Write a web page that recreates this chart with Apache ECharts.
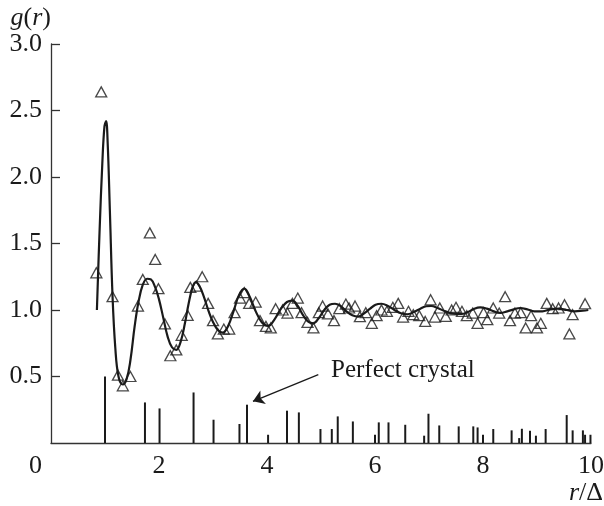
<!DOCTYPE html>
<html>
<head>
<meta charset="utf-8">
<script src="https://cdn.jsdelivr.net/npm/echarts@6/dist/echarts.min.js"></script>
<style>
  html, body { margin: 0; padding: 0; background: #fff; }
  #main { width: 604px; height: 506px; }
</style>
</head>
<body>
<div id="main"></div>
<script>
// measured points (triangles)
var pointsX = [0.84, 0.93, 1.14, 1.24, 1.33, 1.47, 1.61, 1.70, 1.83, 1.93, 1.99, 2.11, 2.21, 2.32, 2.42, 2.53, 2.58, 2.69, 2.80, 2.91,
  3.00, 3.09, 3.20, 3.30, 3.40, 3.50, 3.58, 3.67, 3.79, 3.87, 3.98, 4.07, 4.16, 4.29, 4.38, 4.47, 4.57, 4.64, 4.75, 4.86,
  4.96, 5.03, 5.13, 5.24, 5.34, 5.46, 5.52, 5.63, 5.72, 5.83, 5.94, 6.03, 6.12, 6.22, 6.33, 6.43, 6.52, 6.62, 6.71, 6.82,
  6.93, 7.03, 7.11, 7.20, 7.31, 7.42, 7.50, 7.61, 7.70, 7.81, 7.90, 8.01, 8.08, 8.19, 8.30, 8.41, 8.50, 8.59, 8.70, 8.79,
  8.89, 9.00, 9.07, 9.18, 9.29, 9.40, 9.51, 9.60, 9.66, 9.89];
var pointsY = [1.28, 2.64, 1.10, 0.51, 0.43, 0.50, 1.03, 1.23, 1.58, 1.38, 1.16, 0.895, 0.656, 0.70, 0.81, 0.96, 1.17, 1.18, 1.25, 1.05,
  0.92, 0.82, 0.857, 0.857, 0.98, 1.09, 1.13, 1.05, 1.06, 0.92, 0.877, 0.865, 1.01, 1.00, 0.977, 1.05, 1.09, 0.98, 0.907, 0.865,
  0.98, 1.03, 0.97, 0.92, 1.01, 1.045, 1.015, 1.03, 0.95, 0.98, 0.90, 0.957, 1.00, 0.99, 1.02, 1.05, 0.947, 0.99, 0.965, 0.957,
  0.914, 1.077, 0.947, 1.015, 0.952, 1.00, 1.02, 0.99, 0.957, 0.977, 0.90, 0.98, 0.927, 1.015, 0.977, 1.10, 0.92, 0.977, 0.98, 0.865,
  0.957, 0.865, 0.90, 1.05, 1.01, 1.015, 1.04, 0.82, 0.965, 1.047];

// smooth curve
var curveX = [0.85, 0.90, 0.95, 0.99, 1.02, 1.05, 1.09, 1.14, 1.19, 1.25, 1.33, 1.40, 1.47, 1.55, 1.62, 1.70, 1.78, 1.85, 1.93, 2.00,
  2.08, 2.16, 2.24, 2.32, 2.40, 2.48, 2.55, 2.62, 2.68, 2.75, 2.83, 2.92, 3.00, 3.09, 3.18, 3.28, 3.38, 3.48, 3.58, 3.68,
  3.78, 3.90, 4.02, 4.14, 4.26, 4.37, 4.47, 4.57, 4.67, 4.77, 4.86, 4.96, 5.06, 5.16, 5.26, 5.36, 5.47, 5.58, 5.69, 5.80,
  5.91, 6.01, 6.12, 6.24, 6.36, 6.48, 6.60, 6.72, 6.84, 6.95, 7.04, 7.16, 7.30, 7.45, 7.60, 7.72, 7.84, 7.95, 8.07, 8.20,
  8.32, 8.45, 8.57, 8.69, 8.82, 8.95, 9.10, 9.25, 9.40, 9.55, 9.70, 9.85, 9.95];
var curveY = [1.00, 1.60, 2.10, 2.38, 2.42, 2.25, 1.75, 1.10, 0.72, 0.50, 0.44, 0.48, 0.62, 0.88, 1.06, 1.19, 1.235, 1.23, 1.17, 1.08,
  0.94, 0.80, 0.72, 0.70, 0.76, 0.90, 1.05, 1.17, 1.21, 1.18, 1.10, 0.99, 0.91, 0.85, 0.83, 0.88, 0.99, 1.11, 1.16, 1.10,
  1.00, 0.91, 0.88, 0.93, 1.01, 1.06, 1.07, 1.03, 0.96, 0.91, 0.90, 0.94, 1.00, 1.04, 1.047, 1.03, 0.99, 0.96, 0.95, 0.975,
  1.01, 1.04, 1.047, 1.03, 1.00, 0.975, 0.968, 0.985, 1.01, 1.028, 1.03, 1.015, 0.99, 0.972, 0.97, 0.985, 1.01, 1.02, 1.01, 0.99,
  0.978, 0.99, 1.005, 1.015, 1.005, 0.99, 0.99, 1.005, 1.01, 1.00, 0.99, 0.995, 1.00];

// perfect crystal lines
var crystalX = [1.00, 1.74, 2.01, 2.64, 3.01, 3.49, 3.63, 4.02, 4.37, 4.59, 4.99, 5.20, 5.31, 5.59, 6.00, 6.07, 6.25, 6.56,
  6.91, 6.99, 7.19, 7.55, 7.82, 7.90, 8.00, 8.19, 8.53, 8.67, 8.72, 8.87, 8.98, 9.16, 9.55, 9.66, 9.85, 9.89, 9.99];
var crystalH = [0.50, 0.305, 0.26, 0.38, 0.175, 0.143, 0.288, 0.062, 0.243, 0.23, 0.105, 0.105, 0.20, 0.162, 0.062, 0.155, 0.155, 0.137,
  0.055, 0.22, 0.132, 0.125, 0.125, 0.117, 0.062, 0.105, 0.095, 0.037, 0.107, 0.092, 0.055, 0.105, 0.21, 0.095, 0.095, 0.062, 0.062];

var xTicks = [0, 2, 4, 6, 8, 10];
var yTicks = [0.5, 1.0, 1.5, 2.0, 2.5, 3.0];

var font = 'Liberation Serif';
var ink = '#1a1a1a';

var chart = echarts.init(document.getElementById('main'));

var option = {
    backgroundColor: '#fff',
    animation: false,
    grid: {
        left: 51,
        right: 13,
        top: 44,
        bottom: 63,
        containLabel: false,
        outerBoundsMode: 'none'
    },
    xAxis: {
        type: 'value',
        min: 0,
        max: 10,
        interval: 2,
        axisLine: { show: true, lineStyle: { color: '#333', width: 1.3 } },
        axisTick: { show: false },
        splitLine: { show: false },
        axisLabel: {
            margin: 10,
            fontFamily: font,
            fontSize: 26,
            color: ink,
            formatter: function (v) {
                if (v === xTicks[0]) return '{z|' + v + '}';
                return '{n|' + v + '}';
            },
            rich: {
                z: { fontFamily: font, fontSize: 26, color: ink, padding: [0, 31, 0, 0] },
                n: { fontFamily: font, fontSize: 26, color: ink }
            }
        }
    },
    yAxis: {
        type: 'value',
        min: 0,
        max: 3,
        interval: 0.5,
        name: '{i|g}{n|(}{i|r}{n|)}',
        nameLocation: 'end',
        nameGap: 10,
        nameTextStyle: {
            align: 'right',
            verticalAlign: 'bottom',
            fontFamily: font,
            fontSize: 26,
            color: ink,
            rich: {
                i: { fontStyle: 'italic', fontFamily: font, fontSize: 26, color: ink },
                n: { fontFamily: font, fontSize: 26, color: ink }
            }
        },
        axisLine: { show: true, lineStyle: { color: '#333', width: 1.3 } },
        axisTick: { show: true, inside: true, length: 9, lineStyle: { color: '#333', width: 1.3 } },
        splitLine: { show: false },
        axisLabel: {
            showMinLabel: false,
            margin: 9,
            fontFamily: font,
            fontSize: 26,
            color: ink,
            formatter: function (v) {
                return yTicks.indexOf(v) >= 0 ? '{n|' + v.toFixed(1) + '}' : '';
            },
            rich: {
                n: { fontFamily: font, fontSize: 26, color: ink }
            }
        }
    },
    series: [
        {
            name: 'crystal',
            type: 'bar',
            barWidth: 2,
            itemStyle: { color: ink },
            data: crystalX.map(function (x, i) { return [x, crystalH[i]]; })
        },
        {
            name: 'curve',
            type: 'line',
            smooth: 0.4,
            showSymbol: false,
            lineStyle: { color: ink, width: 2.2 },
            data: curveX.map(function (x, i) { return [x, curveY[i]]; }),
            z: 3
        },
        {
            name: 'points',
            type: 'scatter',
            symbol: 'triangle',
            symbolSize: [11, 10],
            itemStyle: { color: 'rgba(255,255,255,0)', borderColor: ink, borderWidth: 1.3 },
            data: pointsX.map(function (x, i) { return [x, pointsY[i]]; }),
            z: 4,
            markLine: {
                silent: true,
                symbol: ['none', 'arrow'],
                symbolSize: 11,
                label: { show: false },
                lineStyle: { color: ink, width: 1.3, type: 'solid' },
                data: [[{ coord: [4.95, 0.514] }, { coord: [3.74, 0.313] }]]
            }
        }
    ],
    graphic: [
        {
            type: 'text',
            left: 331,
            top: 358,
            style: {
                text: 'Perfect crystal',
                font: '25px "Liberation Serif", serif',
                fill: ink
            }
        },
        {
            type: 'text',
            right: 1,
            top: 480,
            style: {
                text: '{i|r}/Δ',
                font: '26px "Liberation Serif", serif',
                fill: ink,
                rich: {
                    i: { fontStyle: 'italic', fontFamily: font, fontSize: 26, color: ink }
                }
            }
        }
    ]
};

chart.setOption(option);
</script>
</body>
</html>
